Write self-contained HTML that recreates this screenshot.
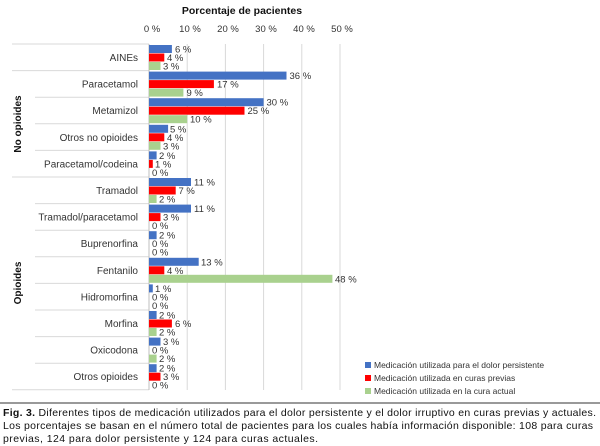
<!DOCTYPE html>
<html><head><meta charset="utf-8"><style>
body{margin:0;background:#fff;}
svg{display:block;font-family:"Liberation Sans",sans-serif;}
.c{font-size:10px;fill:#333;text-anchor:end}
.v{font-size:9.5px;fill:#333}
.b{fill:#4472c4}.r{fill:#ff0000}.g{fill:#a9d18e}
</style></head><body>
<svg width="600" height="446" viewBox="0 0 600 446">
<text x="242" y="14" font-size="10.5" font-weight="bold" text-anchor="middle" fill="#111">Porcentaje de pacientes</text>
<g font-size="9.5" fill="#333" text-anchor="middle">
<text x="152" y="32">0 %</text><text x="190" y="32">10 %</text><text x="228" y="32">20 %</text><text x="266" y="32">30 %</text><text x="304" y="32">40 %</text><text x="342" y="32">50 %</text>
</g>
<g stroke="#d9d9d9" stroke-width="1">
<line x1="187.2" y1="44" x2="187.2" y2="390"/><line x1="225.4" y1="44" x2="225.4" y2="390"/><line x1="263.6" y1="44" x2="263.6" y2="390"/><line x1="301.8" y1="44" x2="301.8" y2="390"/><line x1="340" y1="44" x2="340" y2="390"/>
<line x1="12" y1="44" x2="149" y2="44"/>
<line x1="12" y1="70.6" x2="149" y2="70.6"/>
<line x1="35" y1="97.2" x2="149" y2="97.2"/><line x1="35" y1="123.8" x2="149" y2="123.8"/><line x1="35" y1="150.4" x2="149" y2="150.4"/>
<line x1="12" y1="177" x2="149" y2="177"/>
<line x1="35" y1="203.6" x2="149" y2="203.6"/><line x1="35" y1="230.2" x2="149" y2="230.2"/><line x1="35" y1="256.8" x2="149" y2="256.8"/><line x1="35" y1="283.4" x2="149" y2="283.4"/><line x1="35" y1="310" x2="149" y2="310"/><line x1="35" y1="336.6" x2="149" y2="336.6"/><line x1="35" y1="363.2" x2="149" y2="363.2"/>
<line x1="12" y1="389.8" x2="149" y2="389.8"/>
<line x1="149" y1="44" x2="149" y2="390" stroke="#bfbfbf"/>
</g>
<text transform="translate(21,124) rotate(-90)" font-size="10" font-weight="bold" text-anchor="middle" fill="#111">No opioides</text>
<text transform="translate(21,283) rotate(-90)" font-size="10" font-weight="bold" text-anchor="middle" fill="#111">Opioides</text>

<g transform="translate(0,44)"><text class="c" x="138" y="17">AINEs</text>
<rect class="b" x="149" y="1" width="22.9" height="8"/><rect class="r" x="149" y="9.5" width="15.3" height="8"/><rect class="g" x="149" y="18" width="11.5" height="8"/>
<text class="v" x="175" y="8.5">6 %</text><text class="v" x="167" y="17">4 %</text><text class="v" x="163" y="25.5">3 %</text></g>

<g transform="translate(0,70.6)"><text class="c" x="138" y="17">Paracetamol</text>
<rect class="b" x="149" y="1" width="137.5" height="8"/><rect class="r" x="149" y="9.5" width="64.9" height="8"/><rect class="g" x="149" y="18" width="34.4" height="8"/>
<text class="v" x="289.5" y="8.5">36 %</text><text class="v" x="217" y="17">17 %</text><text class="v" x="186.5" y="25.5">9 %</text></g>

<g transform="translate(0,97.2)"><text class="c" x="138" y="17">Metamizol</text>
<rect class="b" x="149" y="1" width="114.6" height="8"/><rect class="r" x="149" y="9.5" width="95.5" height="8"/><rect class="g" x="149" y="18" width="38.2" height="8"/>
<text class="v" x="266.5" y="8.5">30 %</text><text class="v" x="247.5" y="17">25 %</text><text class="v" x="190" y="25.5">10 %</text></g>

<g transform="translate(0,123.8)"><text class="c" x="138" y="17">Otros no opioides</text>
<rect class="b" x="149" y="1" width="19.1" height="8"/><rect class="r" x="149" y="9.5" width="15.3" height="8"/><rect class="g" x="149" y="18" width="11.5" height="8"/>
<text class="v" x="170" y="8.5">5 %</text><text class="v" x="167" y="17">4 %</text><text class="v" x="163" y="25.5">3 %</text></g>

<g transform="translate(0,150.4)"><text class="c" x="138" y="17">Paracetamol/codeina</text>
<rect class="b" x="149" y="1" width="7.6" height="8"/><rect class="r" x="149" y="9.5" width="3.8" height="8"/>
<text class="v" x="159" y="8.5">2 %</text><text class="v" x="155" y="17">1 %</text><text class="v" x="152" y="25.5">0 %</text></g>

<g transform="translate(0,177)"><text class="c" x="138" y="17">Tramadol</text>
<rect class="b" x="149" y="1" width="42" height="8"/><rect class="r" x="149" y="9.5" width="26.7" height="8"/><rect class="g" x="149" y="18" width="7.6" height="8"/>
<text class="v" x="194" y="8.5">11 %</text><text class="v" x="178.5" y="17">7 %</text><text class="v" x="159" y="25.5">2 %</text></g>

<g transform="translate(0,203.6)"><text class="c" x="138" y="17">Tramadol/paracetamol</text>
<rect class="b" x="149" y="1" width="42" height="8"/><rect class="r" x="149" y="9.5" width="11.5" height="8"/>
<text class="v" x="194" y="8.5">11 %</text><text class="v" x="163" y="17">3 %</text><text class="v" x="152" y="25.5">0 %</text></g>

<g transform="translate(0,230.2)"><text class="c" x="138" y="17">Buprenorfina</text>
<rect class="b" x="149" y="1" width="7.6" height="8"/>
<text class="v" x="159" y="8.5">2 %</text><text class="v" x="152" y="17">0 %</text><text class="v" x="152" y="25.5">0 %</text></g>

<g transform="translate(0,256.8)"><text class="c" x="138" y="17">Fentanilo</text>
<rect class="b" x="149" y="1" width="49.7" height="8"/><rect class="r" x="149" y="9.5" width="15.3" height="8"/><rect class="g" x="149" y="18" width="183.4" height="8"/>
<text class="v" x="201" y="8.5">13 %</text><text class="v" x="167" y="17">4 %</text><text class="v" x="335" y="25.5">48 %</text></g>

<g transform="translate(0,283.4)"><text class="c" x="138" y="17">Hidromorfina</text>
<rect class="b" x="149" y="1" width="3.8" height="8"/>
<text class="v" x="155" y="8.5">1 %</text><text class="v" x="152" y="17">0 %</text><text class="v" x="152" y="25.5">0 %</text></g>

<g transform="translate(0,310)"><text class="c" x="138" y="17">Morfina</text>
<rect class="b" x="149" y="1" width="7.6" height="8"/><rect class="r" x="149" y="9.5" width="22.9" height="8"/><rect class="g" x="149" y="18" width="7.6" height="8"/>
<text class="v" x="159" y="8.5">2 %</text><text class="v" x="175" y="17">6 %</text><text class="v" x="159" y="25.5">2 %</text></g>

<g transform="translate(0,336.6)"><text class="c" x="138" y="17">Oxicodona</text>
<rect class="b" x="149" y="1" width="11.5" height="8"/><rect class="g" x="149" y="18" width="7.6" height="8"/>
<text class="v" x="163" y="8.5">3 %</text><text class="v" x="152" y="17">0 %</text><text class="v" x="159" y="25.5">2 %</text></g>

<g transform="translate(0,363.2)"><text class="c" x="138" y="17">Otros opioides</text>
<rect class="b" x="149" y="1" width="7.6" height="8"/><rect class="r" x="149" y="9.5" width="11.5" height="8"/>
<text class="v" x="159" y="8.5">2 %</text><text class="v" x="163" y="17">3 %</text><text class="v" x="152" y="25.5">0 %</text></g>

<g font-size="8.5" fill="#333">
<rect class="b" x="365" y="362" width="6" height="6"/><text x="374" y="368">Medicación utilizada para el dolor persistente</text>
<rect class="r" x="365" y="375" width="6" height="6"/><text x="374" y="381">Medicación utilizada en curas previas</text>
<rect class="g" x="365" y="388" width="6" height="6"/><text x="374" y="394">Medicación utilizada en la cura actual</text>
</g>
<line x1="0" y1="403" x2="600" y2="403" stroke="#999" stroke-width="2"/>
<g font-size="10.5" fill="#111">
<text x="3" y="416" textLength="593" lengthAdjust="spacing"><tspan font-weight="bold">Fig. 3.</tspan> Diferentes tipos de medicación utilizados para el dolor persistente y el dolor irruptivo en curas previas y actuales.</text>
<text x="3" y="429" textLength="590" lengthAdjust="spacing">Los porcentajes se basan en el número total de pacientes para los cuales había información disponible: 108 para curas</text>
<text x="3" y="442" textLength="315" lengthAdjust="spacing">previas, 124 para dolor persistente y 124 para curas actuales.</text>
</g>
</svg>
</body></html>
